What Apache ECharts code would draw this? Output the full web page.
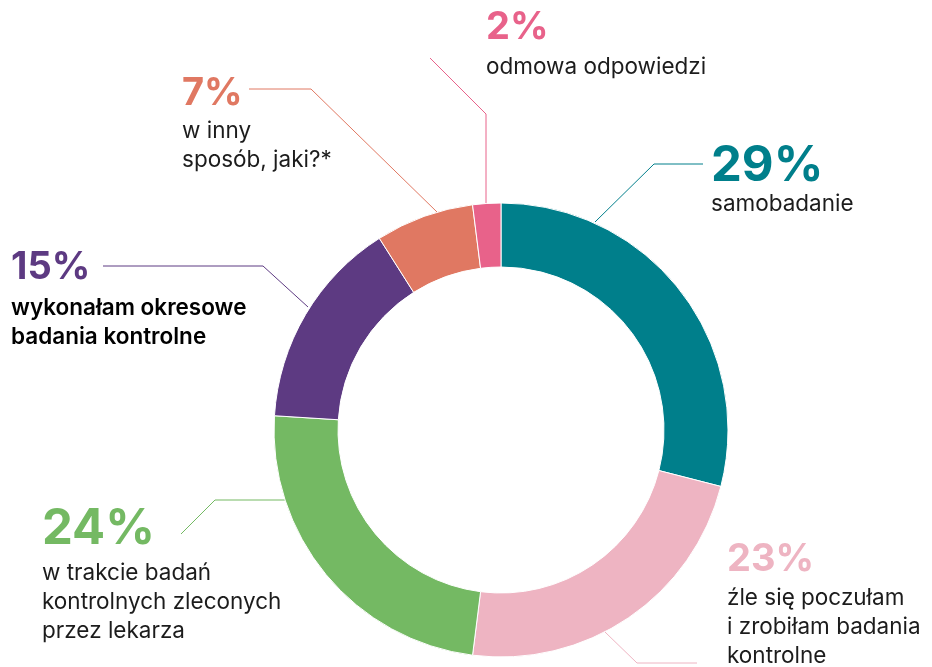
<!DOCTYPE html>
<html>
<head>
<meta charset="utf-8">
<script src="https://cdn.jsdelivr.net/npm/echarts@6/dist/echarts.min.js"></script>
<style>
  html, body { margin: 0; padding: 0; background: #fff; }
  #chart { width: 932px; height: 667px; }
</style>
</head>
<body>
<div id="chart"></div>
<script>
// dane z wykresu (kolejność zgodnie z ruchem wskazówek zegara od góry)
const categories = [
  'samobadanie',
  'źle się poczułam\ni zrobiłam badania\nkontrolne',
  'w trakcie badań\nkontrolnych zleconych\nprzez lekarza',
  'wykonałam okresowe\nbadania kontrolne',
  'w inny\nsposób, jaki?*',
  'odmowa odpowiedzi'
]
const values = [29, 23, 24, 15, 7, 2]
const colors = ['#007f8b', '#eeb4c2', '#74b963', '#5d3a82', '#e07862', '#e8628a']

// rozmieszczenie etykiet i linii odniesienia
const labelSpots = [
  { x: 711, y: 143, size: 49, lh: 47, line: [[595, 222], [654, 164], [703, 164]] },
  { x: 727, y: 536, size: 38, lh: 48, line: [[605, 632], [637, 663], [697, 663]] },
  { x: 42, y: 500, size: 49, lh: 59, line: [[285, 500], [215, 500], [181, 534]] },
  { x: 11, y: 242, size: 38, lh: 52, line: [[308, 307], [263, 266], [103, 266]] },
  { x: 182, y: 70, size: 38, lh: 47, line: [[437, 212], [311, 89], [249, 89]] },
  { x: 486, y: 3, size: 38, lh: 50, line: [[486, 203], [486, 114], [430, 58]] }
]

const rich = {
  t: { fontSize: 22.5, lineHeight: 29, color: '#1c1c1c', fontFamily: 'Inter' },
  tb: { fontSize: 22.5, lineHeight: 29, color: '#000', fontWeight: 600, fontFamily: 'Inter' }
}
labelSpots.forEach(function (s, i) {
  rich['p' + i] = {
    fontSize: s.size,
    lineHeight: s.lh,
    fontWeight: 700,
    color: colors[i],
    fontFamily: 'Inter'
  }
})

const chart = echarts.init(document.getElementById('chart'))
chart.setOption({
  animation: false,
  color: colors,
  series: [{
    type: 'pie',
    center: [501, 430],
    radius: [163, 227],
    startAngle: 90,
    clockwise: true,
    avoidLabelOverlap: false,
    emphasis: { disabled: true },
    itemStyle: { borderColor: '#fff', borderWidth: 1 },
    label: {
      show: true,
      position: 'outside',
      rich: rich,
      formatter: function (p) {
        const style = p.dataIndex === 3 ? 'tb' : 't'
        const lines = p.name.split('\n').map(function (l) { return '{' + style + '|' + l + '}' })
        return '{p' + p.dataIndex + '|' + p.value + '%}\n' + lines.join('\n')
      }
    },
    labelLine: { show: true, length: 10, length2: 10, lineStyle: { width: 1 } },
    labelLayout: function (params) {
      const s = labelSpots[params.dataIndex]
      return {
        x: s.x,
        y: s.y,
        align: 'left',
        verticalAlign: 'top',
        labelLinePoints: s.line
      }
    },
    data: categories.map(function (name, i) {
      return { name: name, value: values[i] }
    })
  }]
})
</script>
</body>
</html>
